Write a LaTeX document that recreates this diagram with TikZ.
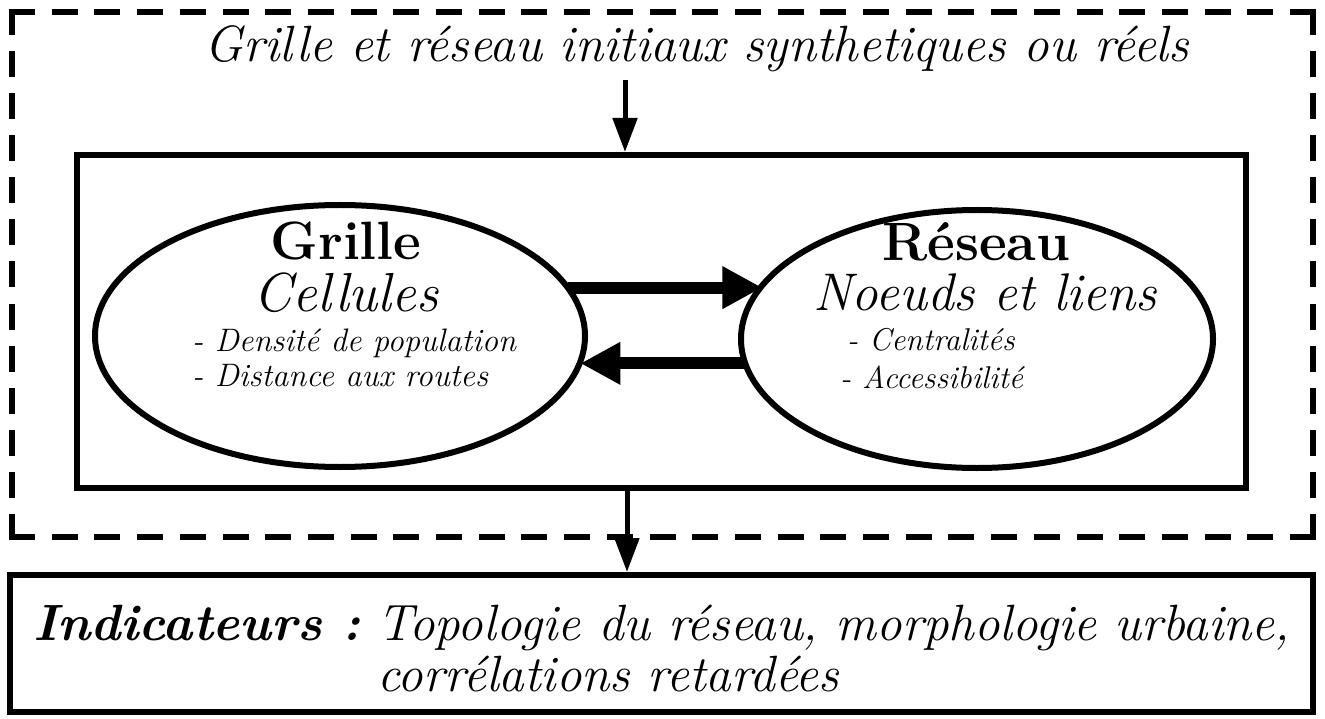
\documentclass[tikz,border=0pt]{standalone}
\usepackage{fontspec}
\usetikzlibrary{arrows.meta,shapes.geometric}
\newcommand\fsz[1]{\fontsize{#1}{#1}\selectfont}
\begin{document}
\begin{tikzpicture}[x=1pt,y=-1pt,
  frame/.style={draw,line width=6pt,inner sep=0pt},
  dashh/.style={line width=6pt,line cap=rect,dash pattern=on 20pt off 22.7pt},
  dashv/.style={line width=6pt,line cap=rect,dash pattern=on 20pt off 22.08pt},
  oval/.style={ellipse,draw,line width=6pt,inner sep=0pt,outer sep=0pt},
  txt/.style={inner sep=0pt,anchor=base},
  thinarrow/.style={line width=5pt,-{Triangle[length=34pt,width=24pt]}},
  bigarrow/.style={line width=12pt,-{Triangle[length=40pt,width=40pt]}}]
\useasboundingbox (0,0) rectangle (1325,719);
% outer dashed frame
\node[inner sep=0pt,outer sep=0pt,minimum width=1301pt,minimum height=525pt] (outer) at (662.5,274.5) {};
\draw[dashh] (outer.north west) -- (outer.north east);
\draw[dashh] (outer.south west) -- (outer.south east);
\draw[dashv] (outer.north west) -- (outer.south west);
\draw[dashv] (outer.north east) -- (outer.south east);
\node[txt,font=\fsz{51}\itshape] (title) at (697,62) {Grille et réseau initiaux synthetiques ou réels};
% inner frame
\node[frame,minimum width=1169pt,minimum height=333pt] (inner) at (661.5,321.5) {};
\coordinate (t0) at (625,80);
\draw[thinarrow] (t0) -- (t0 |- inner.north);
% ellipses
\node[oval,minimum width=490pt,minimum height=262pt] (L) at (340,336) {};
\node[oval,minimum width=472pt,minimum height=258pt] (R) at (977,339) {};
\node[txt,font=\fsz{54}\bfseries] (Lt) at (346,260) {Grille};
\node[txt,font=\fsz{55}\itshape] (Ls) at (346,312) {Cellules};
\node[txt,anchor=base west,font=\fsz{32.5}\itshape] (La) at (192,351) {- Densité de population};
\node[txt,anchor=base west,font=\fsz{32.5}\itshape] (Lb) at (192,386) {- Distance aux routes};
\node[txt,font=\fsz{54}\bfseries] (Rt) at (976,261) {Réseau};
\node[txt,font=\fsz{53}\itshape] (Rs) at (985,311) {Noeuds et liens};
\node[txt,anchor=base west,font=\fsz{31.5}\itshape] (Ra) at (847,350) {- Centralités};
\node[txt,anchor=base west,font=\fsz{31.5}\itshape] (Rb) at (840,388) {- Accessibilité};
% thick arrows
\draw[bigarrow] (L.12.5) -- (L.12.5 -| R.166);
\draw[bigarrow] (R.186) -- (R.186 -| L.-6.5);
% bottom box
\node[frame,minimum width=1303pt,minimum height=137pt] (ind) at (661.5,643.5) {};
\coordinate (b0) at (627,0);
\draw[thinarrow] (b0 |- inner.south) -- (b0 |- ind.north);
\node[txt,anchor=base west,font=\fsz{51}\itshape\bfseries] (ikey) at (33,640) {Indicateurs :};
\node[txt,anchor=base west,font=\fsz{51}\itshape] (i1) at ([xshift=16pt]ikey.base east) {Topologie du réseau, morphologie urbaine,};
\coordinate (l2) at (0,691);
\node[txt,anchor=base west,font=\fsz{51}\itshape] (i2) at (i1.base west |- l2) {corrélations retardées};
\end{tikzpicture}
\end{document}
